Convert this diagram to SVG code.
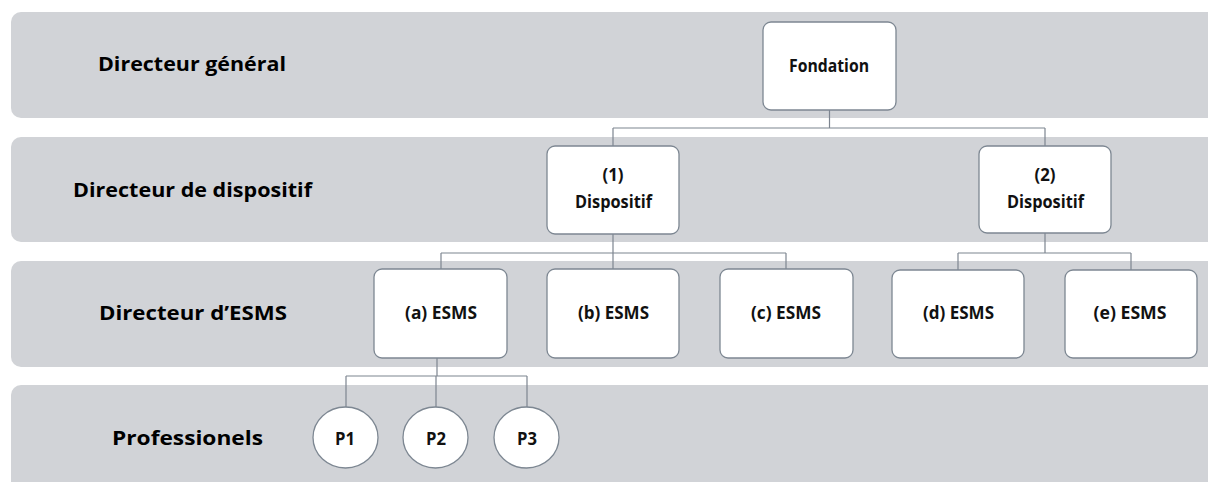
<svg xmlns="http://www.w3.org/2000/svg" width="1208" height="482" viewBox="0 0 1208 482">
<style>
.band{fill:#d1d3d7}
.box{fill:#ffffff;stroke:#7d8792;stroke-width:1.3}
.lbl{font-family:"Open Sans","Liberation Sans",sans-serif;font-weight:bold;font-size:20px;fill:#000}
.t{font-family:"Open Sans","Liberation Sans",sans-serif;font-weight:bold;font-size:17.5px;fill:#111;text-anchor:middle}
.c{fill:none;stroke:#7d8590;stroke-width:1.2}
</style>
<rect width="1208" height="482" fill="#ffffff"/>
<g id="bands">
<rect class="band" x="11" y="12" width="1220" height="106" rx="10"/>
<rect class="band" x="11" y="137" width="1220" height="105" rx="10"/>
<rect class="band" x="11" y="261" width="1220" height="106" rx="10"/>
<rect class="band" x="11" y="385" width="1220" height="110" rx="10"/>
</g>
<g id="row-labels">
<text class="lbl" x="98" y="71" textLength="188" lengthAdjust="spacingAndGlyphs">Directeur général</text>
<text class="lbl" x="73" y="197" textLength="239" lengthAdjust="spacingAndGlyphs">Directeur de dispositif</text>
<text class="lbl" x="99" y="320" textLength="188" lengthAdjust="spacingAndGlyphs">Directeur d’ESMS</text>
<text class="lbl" x="112" y="445" textLength="151" lengthAdjust="spacingAndGlyphs">Professionels</text>
</g>
<g id="connectors">
<path class="c" d="M829.5 110 V128 M613 128 H1045 M613 128 V146 M1045 128 V146"/>
<path class="c" d="M613 234 V253 M441 253 H786 M441 253 V269 M613 253 V269 M786 253 V269"/>
<path class="c" d="M1045 233 V253 M958 253 H1131 M958 253 V270 M1131 253 V270"/>
<path class="c" d="M437 358 V376 M346 376 H527 M346 376 V407 M436 376 V407 M527 376 V407"/>
</g>
<g id="fondation">
<rect class="box" x="763" y="22" width="133" height="88" rx="8"/>
<text class="t" x="829" y="72" textLength="80" lengthAdjust="spacingAndGlyphs">Fondation</text>
</g>
<g id="dispositif-1">
<rect class="box" x="547" y="146" width="132" height="88" rx="8"/>
<text class="t" x="613" y="181" textLength="21" lengthAdjust="spacingAndGlyphs">(1)</text>
<text class="t" x="613.5" y="208" textLength="77" lengthAdjust="spacingAndGlyphs">Dispositif</text>
</g>
<g id="dispositif-2">
<rect class="box" x="979" y="146" width="132" height="87" rx="8"/>
<text class="t" x="1045" y="181" textLength="21" lengthAdjust="spacingAndGlyphs">(2)</text>
<text class="t" x="1045.5" y="208" textLength="77" lengthAdjust="spacingAndGlyphs">Dispositif</text>
</g>
<g id="esms-a">
<rect class="box" x="374" y="269" width="133" height="89" rx="8"/>
<text class="t" x="441" y="319" textLength="72" lengthAdjust="spacingAndGlyphs">(a) ESMS</text>
</g>
<g id="esms-b">
<rect class="box" x="547" y="269" width="132" height="89" rx="8"/>
<text class="t" x="613.5" y="319" textLength="71" lengthAdjust="spacingAndGlyphs">(b) ESMS</text>
</g>
<g id="esms-c">
<rect class="box" x="720" y="269" width="133" height="89" rx="8"/>
<text class="t" x="786" y="319" textLength="70" lengthAdjust="spacingAndGlyphs">(c) ESMS</text>
</g>
<g id="esms-d">
<rect class="box" x="892" y="270" width="132" height="88" rx="8"/>
<text class="t" x="958.5" y="319" textLength="71" lengthAdjust="spacingAndGlyphs">(d) ESMS</text>
</g>
<g id="esms-e">
<rect class="box" x="1065" y="270" width="132" height="88" rx="8"/>
<text class="t" x="1130" y="319" textLength="73" lengthAdjust="spacingAndGlyphs">(e) ESMS</text>
</g>
<g id="p1">
<ellipse class="box" cx="345.5" cy="437.5" rx="32.5" ry="30.5"/>
<text class="t" x="345" y="445" textLength="20" lengthAdjust="spacingAndGlyphs">P1</text>
</g>
<g id="p2">
<ellipse class="box" cx="435.5" cy="437.5" rx="32.5" ry="30.5"/>
<text class="t" x="436" y="445" textLength="20" lengthAdjust="spacingAndGlyphs">P2</text>
</g>
<g id="p3">
<ellipse class="box" cx="526.5" cy="437.5" rx="32.5" ry="30.5"/>
<text class="t" x="527" y="445" textLength="20" lengthAdjust="spacingAndGlyphs">P3</text>
</g>
</svg>
